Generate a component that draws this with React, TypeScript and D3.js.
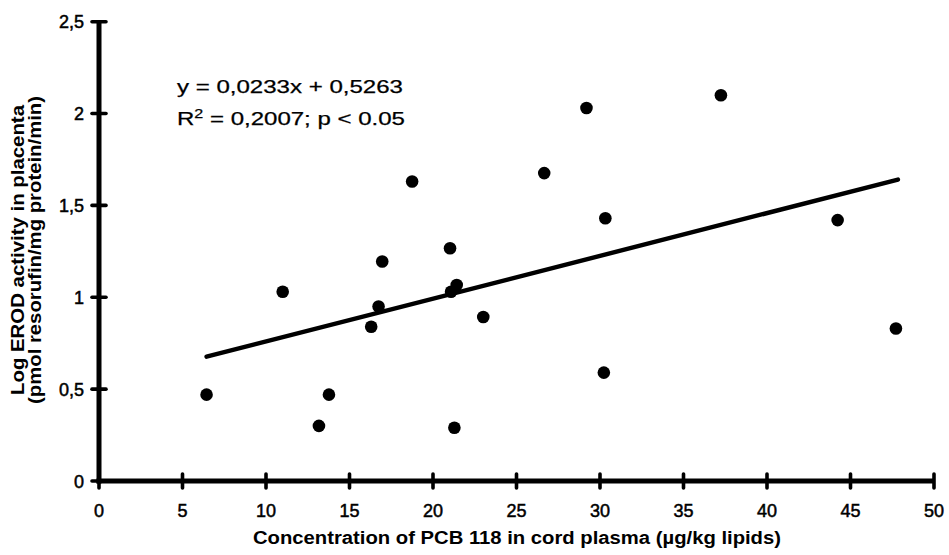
import React from "react";
import * as d3 from "d3";

const pcbValues = [6.44, 11.0, 13.77, 13.17, 16.3, 18.75, 26.66, 16.96, 21.02, 21.42, 21.08, 16.74, 23.01, 21.28, 29.19, 37.24, 30.32, 30.23, 44.23, 47.72];
const erodValues = [0.47, 1.03, 0.47, 0.3, 0.84, 1.63, 1.676, 1.195, 1.267, 1.067, 1.03, 0.95, 0.893, 0.29, 2.03, 2.1, 1.43, 0.59, 1.42, 0.83];
const xTicks = [0, 5, 10, 15, 20, 25, 30, 35, 40, 45, 50];
const yTicks = [0, 0.5, 1, 1.5, 2, 2.5];
const yTickLabels = ["0", "0,5", "1", "1,5", "2", "2,5"];
const slope = 0.0233;
const intercept = 0.5263;
const fitRange = [6.44, 47.84];
const equationLines = ["y = 0,0233x + 0,5263", "R2 = 0,2007; p < 0.05"];
const xTitle = "Concentration of PCB 118 in cord plasma (µg/kg lipids)";
const yTitle = ["Log EROD activity in placenta", "(pmol resorufin/mg protein/min)"];

export default function App() {
  const W = 949, H = 555;
  const x = d3.scaleLinear().domain([0, 50]).range([99, 934]);
  const y = d3.scaleLinear().domain([0, 2.5]).range([481, 21.7]);
  const font = "'Liberation Sans', Arial, Helvetica, sans-serif";
  const line = d3.line<number>().x((d) => x(d)).y((d) => y(slope * d + intercept));
  const axisW = 5;
  return (
    <div style={{ position: "absolute", left: 0, top: 0 }}>
      <svg width={W} height={H} style={{ display: "block", background: "#fff" }} fontFamily={font}>
        <rect width={W} height={H} fill="#fff" />
        <line x1={x(0)} x2={x(0)} y1={y(2.5)} y2={y(0) + axisW / 2} style={{ stroke: "#000", strokeWidth: axisW }} />
        <line x1={x(0) - axisW / 2} x2={x(50)} y1={y(0)} y2={y(0)} style={{ stroke: "#000", strokeWidth: axisW }} />
        {xTicks.map((t) => (
          <line key={"xt" + t} x1={x(t)} x2={x(t)} y1={y(0) - 7} y2={y(0) + 7} style={{ stroke: "#000", strokeWidth: 3.6, strokeLinecap: "round" }} />
        ))}
        {yTicks.map((t) => (
          <line key={"yt" + t} x1={x(0) - 7} x2={x(0) + 7} y1={y(t)} y2={y(t)} style={{ stroke: "#000", strokeWidth: 3.6, strokeLinecap: "round" }} />
        ))}
        {xTicks.map((t) => (
          <text key={"x" + t} x={x(t)} y={517} textAnchor="middle" fontSize={18} fill="#000" stroke="#000" strokeWidth={0.5}>{t}</text>
        ))}
        {yTicks.map((t, i) => (
          <text key={"y" + t} x={84} y={y(t) + 6.5} textAnchor="end" fontSize={18} fill="#000" stroke="#000" strokeWidth={0.5}>{yTickLabels[i]}</text>
        ))}
        <path d={line(fitRange) || ""} style={{ stroke: "#000", strokeWidth: 4.4, fill: "none", strokeLinecap: "round" }} />
        {pcbValues.map((v, i) => (
          <circle key={i} cx={x(v)} cy={y(erodValues[i])} r={6.3} fill="#000" />
        ))}
        <text x={177} y={93} fontSize={18} fill="#000" stroke="#000" strokeWidth={0.25} textLength={226} lengthAdjust="spacingAndGlyphs">
          {equationLines[0]}
        </text>
        <text x={177} y={125} fontSize={18} fill="#000" stroke="#000" strokeWidth={0.25} textLength={228} lengthAdjust="spacingAndGlyphs">
          R<tspan dy={-7} fontSize={12}>2</tspan><tspan dy={7}>{equationLines[1].slice(2)}</tspan>
        </text>
        <text x={517} y={544} textAnchor="middle" fontSize={18} fontWeight="bold" fill="#000" textLength={528} lengthAdjust="spacingAndGlyphs">
          {xTitle}
        </text>
        <text transform="translate(24,250) rotate(-90)" textAnchor="middle" fontSize={18} fontWeight="bold" fill="#000" textLength={290} lengthAdjust="spacingAndGlyphs">
          {yTitle[0]}
        </text>
        <text transform="translate(41,250) rotate(-90)" textAnchor="middle" fontSize={18} fontWeight="bold" fill="#000" textLength={308} lengthAdjust="spacingAndGlyphs">
          {yTitle[1]}
        </text>
      </svg>
    </div>
  );
}
